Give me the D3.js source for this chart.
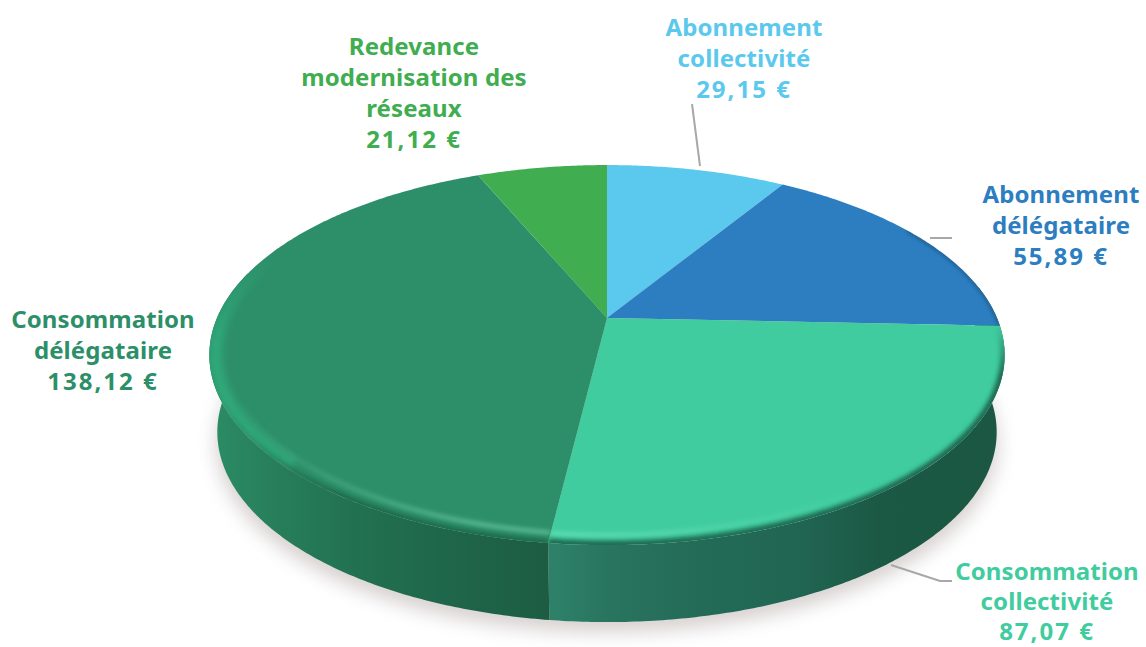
<!DOCTYPE html>
<html><head><meta charset="utf-8">
<script src="https://cdn.jsdelivr.net/npm/d3@7"></script>
<style>html,body{margin:0;padding:0;background:#fff;overflow:hidden}
text{font-family:"Noto Sans",sans-serif;font-weight:700;font-size:24px;letter-spacing:.1px;text-anchor:middle}</style>
</head><body><svg id="c" width="1146" height="647"></svg>
<script>
const categories=["Abonnement collectivité","Abonnement délégataire","Consommation collectivité","Consommation délégataire","Redevance modernisation des réseaux"];
const values=[29.15,55.89,87.07,138.12,21.12];
const valueLabels=["29,15 €","55,89 €","87,07 €","138,12 €","21,12 €"];
const labelLines=[["Abonnement","collectivité"],["Abonnement","délégataire"],["Consommation","collectivité"],["Consommation","délégataire"],["Redevance","modernisation des","réseaux"]];
const colors=["#5BC8EE","#2C7EC1","#40CC9E","#2D8F69","#40AD50"];

const svg=d3.select("#c"),defs=svg.append("defs");
const apex={x:607,y:318},B=390,A=182.8,P=0.195,DEPTH=77,BASE_SCALE=0.98;
const proj=(a,r=1,sx=1,dy=0)=>{const d=1+P*r*Math.cos(a);
  return [apex.x+sx*B*r*Math.sin(a)/d, apex.y+dy-A*r*Math.cos(a)/d];};
const line=d3.line();
const arcPts=(a0,a1,r=1,sx=1,dy=0)=>{const n=Math.max(2,Math.ceil(Math.abs(a1-a0)/0.01));
  return d3.range(n+1).map(i=>proj(a0+(a1-a0)*i/n,r,sx,dy));};
const arcs=d3.pie().sort(null).startAngle(0).endAngle(2*Math.PI)(values);
const TAU=2*Math.PI, rad=d3.scaleLinear().domain([0,360]).range([0,TAU]);

const blur=(id,s)=>defs.append("filter").attr("id",id).attr("filterUnits","userSpaceOnUse")
  .attr("x",0).attr("y",0).attr("width",1146).attr("height",647)
  .append("feGaussianBlur").attr("stdDeviation",s);
blur("b10",9);blur("b3",3.5);blur("b2",2);

svg.append("path").attr("d",line(arcPts(0,TAU,1,0.985,DEPTH+11))+"Z").attr("fill","#d9d3d3").attr("filter","url(#b10)");

const grad=(id,x0,x1,y0,y1,stops)=>{const g=defs.append("linearGradient").attr("id",id).attr("gradientUnits","userSpaceOnUse")
  .attr("x1",x0).attr("x2",x1).attr("y1",y0).attr("y2",y1);
  stops.forEach(([o,c,op=1])=>g.append("stop").attr("offset",o).attr("stop-color",c).attr("stop-opacity",op));};
grad("wallR",552,1005,0,0,[[0,"#2E8168"],[.12,"#297560"],[.3,"#246C58"],[.55,"#206552"],[.72,"#1B5944"],[1,"#1B5742"]]);
grad("wallL",212,552,0,0,[[0,"#2B8C64"],[.2,"#277D5A"],[.45,"#21704F"],[.75,"#1E6449"],[1,"#1C5C43"]]);
// bevel strokes fade along the rim
grad("hlBand",0,0,255,340,[[0,"#2FA97A",0],[1,"#2FA97A",.95]]);
grad("hlThin",235,480,0,0,[[0,"#6CCBA6",0],[1,"#6CCBA6",.75]]);
grad("hlMint",552,880,0,0,[[0,"#62DFB6",.85],[1,"#62DFB6",0]]);
grad("darkL",225,340,0,0,[[0,"#1E6B4C",0],[1,"#1E6B4C",.95]]);
grad("darkR",0,0,325,375,[[0,"#1D6650",0],[1,"#1D6650",.95]]);

const wall=(a0,a1,fill)=>svg.append("path").attr("fill",fill)
  .attr("d",line(arcPts(a0,a1).concat(arcPts(a1,a0,1,BASE_SCALE,DEPTH)))+"Z");
const cut=arcs[2].endAngle;
wall(rad(80),cut,"url(#wallR)");
wall(cut,rad(285),"url(#wallL)");

const slicePath=d=>line([[apex.x,apex.y]].concat(arcPts(d.startAngle,d.endAngle)))+"Z";
arcs.forEach((d,i)=>{
  defs.append("clipPath").attr("id","clip"+i).append("path").attr("d",slicePath(d));
  svg.append("path").attr("d",slicePath(d)).attr("fill",colors[i]);
});

const bevel=(i,a0,a1,r,col,w,f)=>svg.append("g").attr("clip-path",`url(#clip${i})`)
  .append("path").attr("d",line(arcPts(a0,a1,r))).attr("fill","none").attr("stroke",col)
  .attr("stroke-width",w).attr("filter",`url(#${f})`);
bevel(3,rad(225),rad(315),0.985,"url(#hlBand)",13,"b3");
bevel(3,cut,rad(262),0.962,"url(#hlThin)",4,"b2");
bevel(2,rad(110),cut,0.965,"url(#hlMint)",5,"b2");
bevel(3,cut,rad(275),1.0,"url(#darkL)",8,"b2");
bevel(2,rad(88),cut,1.0,"url(#darkR)",9,"b2");
bevel(1,rad(58),arcs[1].endAngle,1.0,"#173F58",2,"b2");

const leaders=[[[692,104],[700,166]],[[930,238],[952,238]],[[891,565],[940,581],[952,581]]];
leaders.forEach(l=>svg.append("path").attr("d",line(l)).attr("fill","none").attr("stroke","#A8A8A8").attr("stroke-width",2));

const labelAnchors=[[744,36],[1061,203],[1047,580],[103,328],[414,55]];
const lineHeights=[31,31,30,31,31];
labelLines.forEach((ls,i)=>{
  const t=svg.append("text").attr("fill",colors[i]).attr("transform",`translate(${labelAnchors[i]})`);
  ls.forEach((s,j)=>t.append("tspan").attr("x",0).attr("y",j*lineHeights[i]).text(s));
  t.append("tspan").attr("x",0).attr("y",ls.length*lineHeights[i]).attr("letter-spacing","2px").text(valueLabels[i]);
});
</script></body></html>
